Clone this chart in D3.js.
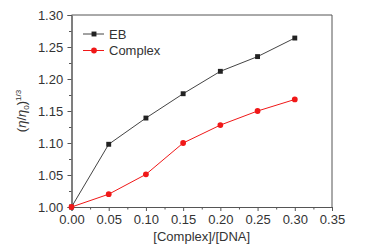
<!DOCTYPE html>
<html>
<head>
<meta charset="utf-8">
<script src="https://cdn.jsdelivr.net/npm/d3@7"></script>
<style>
  body { margin: 0; background: #fff; }
  svg { display: block; font-family: Arial, "Liberation Sans", sans-serif; }
</style>
</head>
<body>
<div id="chart"></div>
<script>
// data
var ratios = [0, 0.05, 0.10, 0.15, 0.20, 0.25, 0.30];
var ebValues = [1.000, 1.098, 1.139, 1.177, 1.212, 1.235, 1.264];
var complexValues = [1.000, 1.020, 1.051, 1.100, 1.128, 1.150, 1.168];
var seriesNames = ["EB", "Complex"];
var xTicks = [0, 0.05, 0.10, 0.15, 0.20, 0.25, 0.30, 0.35];
var yTicks = [1.00, 1.05, 1.10, 1.15, 1.20, 1.25, 1.30];

var width = 382, height = 252;
var margin = {top: 15, right: 50, bottom: 45, left: 71.5};

var svg = d3.select("#chart").append("svg")
  .attr("width", width)
  .attr("height", height);

var x = d3.scaleLinear().domain([0, 0.35]).range([margin.left, width - margin.right]);
var y = d3.scaleLinear().domain([1.0, 1.3]).range([height - margin.bottom, margin.top]);

var axisColor = "#555";
var textColor = "#333";

// minor ticks
var xMinor = d3.range(0.025, 0.35, 0.05);
var yMinor = d3.range(1.025, 1.3, 0.05);

var gx = svg.append("g")
  .attr("transform", `translate(0,${y(1.0)})`);
gx.call(d3.axisBottom(x).tickValues(xMinor).tickSize(2.5).tickFormat(""));
gx.append("g").call(d3.axisBottom(x).tickValues(xTicks).tickSize(4).tickFormat(d3.format(".2f")));

var gy = svg.append("g")
  .attr("transform", `translate(${x(0)},0)`);
gy.call(d3.axisLeft(y).tickValues(yMinor).tickSize(2.5).tickFormat(""));
gy.append("g").call(d3.axisLeft(y).tickValues(yTicks).tickSize(4).tickFormat(d3.format(".2f")));

svg.selectAll(".domain").attr("stroke", axisColor);
svg.selectAll(".tick line").attr("stroke", axisColor);
svg.selectAll(".tick text").attr("fill", textColor).style("font-size", "13px");
gx.selectAll(".tick text").attr("dy", "0.8em");
gy.selectAll(".tick text").attr("dx", "-0.1em");

// top and right frame
svg.append("path")
  .attr("fill", "none")
  .attr("stroke", axisColor)
  .attr("d", `M${x(0)},${y(1.3)}H${x(0.35)}V${y(1.0)}`);

// axis titles
svg.append("text")
  .attr("x", x(0.175))
  .attr("y", 241)
  .attr("text-anchor", "middle")
  .attr("fill", textColor)
  .style("font-size", "13px")
  .text("[Complex]/[DNA]");

var yt = svg.append("text")
  .attr("transform", `translate(26,${y(1.15)}) rotate(-90)`)
  .attr("text-anchor", "middle")
  .attr("fill", textColor)
  .style("font-size", "13px");
yt.append("tspan").text("(");
yt.append("tspan").style("font-style", "italic").text("η");
yt.append("tspan").text("/");
yt.append("tspan").style("font-style", "italic").text("η");
yt.append("tspan").attr("dy", 3).style("font-size", "8px").text("0");
yt.append("tspan").attr("dy", -3).text(")");
yt.append("tspan").attr("dy", -5).style("font-size", "8px").text("1/3");

// series
var series = [
  {name: seriesNames[0], values: ebValues, color: "#222", line: "#444", shape: "square"},
  {name: seriesNames[1], values: complexValues, color: "#f01818", line: "#f01818", shape: "circle"}
];

var line = d3.line()
  .x(function(d) { return x(d[0]); })
  .y(function(d) { return y(d[1]); });

series.forEach(function(s) {
  var pts = ratios.map(function(r, i) { return [r, s.values[i]]; });
  svg.append("path")
    .datum(pts)
    .attr("fill", "none")
    .attr("stroke", s.line)
    .attr("stroke-width", 1)
    .attr("d", line);
  var sym = d3.symbol().type(s.shape === "square" ? d3.symbolSquare : d3.symbolCircle).size(s.shape === "square" ? 24 : 26);
  svg.append("g").selectAll("path")
    .data(pts)
    .enter()
    .append("path")
    .attr("transform", function(d) { return `translate(${x(d[0])},${y(d[1])})`; })
    .attr("fill", s.color)
    .attr("d", sym);
});

// legend
var legend = svg.append("g");
series.forEach(function(s, i) {
  var ly = 34 + i * 16.5;
  var g = legend.append("g").attr("transform", `translate(83,${ly})`);
  g.append("line").attr("x1", 0).attr("x2", 21).attr("stroke", s.line);
  g.append("path")
    .attr("transform", "translate(11,0)")
    .attr("fill", s.color)
    .attr("d", d3.symbol().type(s.shape === "square" ? d3.symbolSquare : d3.symbolCircle).size(s.shape === "square" ? 24 : 26));
  g.append("text")
    .attr("x", 26)
    .attr("y", 0)
    .attr("dy", "0.36em")
    .attr("fill", textColor)
    .style("font-size", "13px")
    .text(s.name);
});
</script>
</body>
</html>
